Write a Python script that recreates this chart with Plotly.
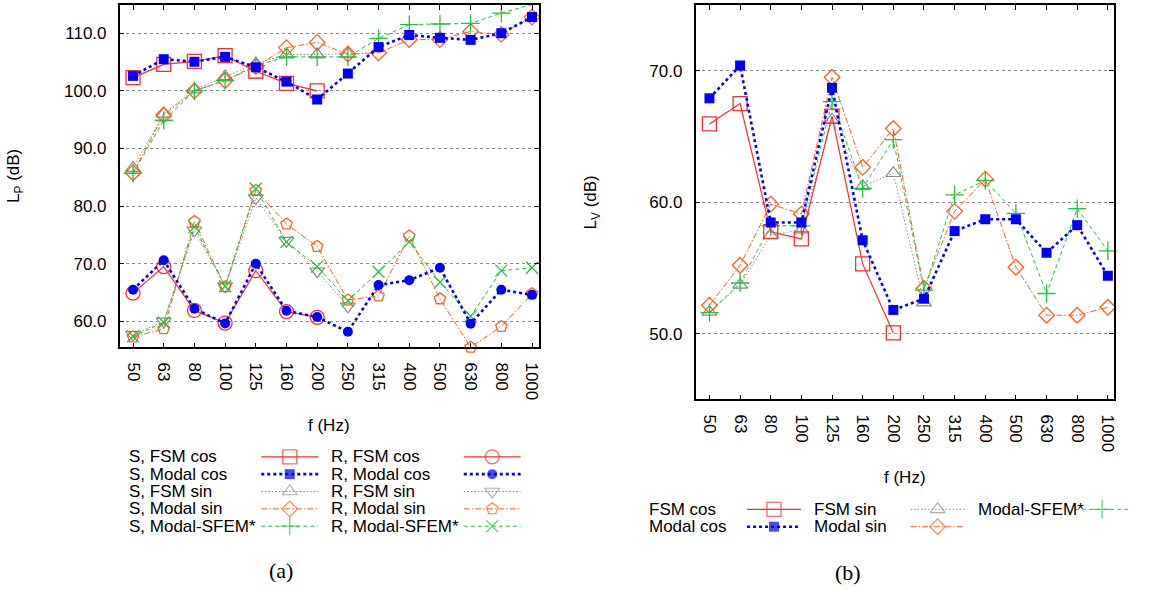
import plotly.graph_objects as go

W, H = 1163, 590

# ---------------- data ----------------
freqs = ["50", "63", "80", "100", "125", "160", "200", "250", "315", "400", "500", "630", "800", "1000"]

# (a) sound pressure level L_P (dB)
s_fsm_cos = [102.3, 104.6, 105.1, 106.1, 103.4, 101.3, 100.0]
s_modal_cos = [102.6, 105.5, 105.05, 105.9, 104.1, 101.6, 98.5, 103.0, 107.6, 109.7, 109.2, 108.85, 110.0, 112.8]
s_fsm_sin = [86.6, 96.0, 100.2, 102.5, 104.7, 106.3, 106.3, 106.4]
s_modal_sin = [85.8, 95.8, 100.0, 101.8, 104.2, 107.5, 108.4, 106.4, 106.6, 108.9, 108.9, 110.3, 109.8, 112.8]
s_sfem = [85.7, 94.9, 100.0, 101.8, 104.4, 105.9, 105.9, 105.9, 109.1, 111.5, 111.6, 111.7, 113.5, 115.0]

r_fsm_cos = [64.9, 69.5, 61.9, 59.7, 68.8, 61.7, 60.7]
r_modal_cos = [65.5, 70.6, 62.2, 59.65, 70.0, 61.85, 60.75, 58.2, 66.3, 67.15, 69.3, 59.6, 65.5, 64.6]
r_fsm_sin = [57.7, 60.0, 75.8, 66.1, 81.4, 74.0, 68.7, 62.6]
r_modal_sin = [57.3, 58.7, 77.3, 66.0, 82.7, 76.9, 73.0, 63.7, 64.4, 74.8, 63.9, 55.5, 59.1, 64.8]
r_sfem = [57.4, 59.8, 76.4, 66.1, 83.0, 73.8, 69.5, 63.6, 68.6, 73.8, 66.8, 60.9, 68.8, 69.3]

# (b) velocity level L_V (dB)
v_fsm_cos = [65.95, 67.5, 57.75, 57.2, 66.55, 55.3, 50.05]
v_modal_cos = [67.9, 70.4, 58.45, 58.45, 68.7, 57.1, 51.8, 52.65, 57.8, 58.7, 58.7, 56.15, 58.25, 54.4]
v_fsm_sin = [51.65, 53.7, 57.5, 57.9, 66.25, 61.2, 62.2, 52.35]
v_modal_sin = [52.15, 55.2, 59.85, 59.1, 69.5, 62.65, 65.6, 53.45, 59.3, 61.75, 55.05, 51.4, 51.4, 52.0]
v_sfem = [51.6, 53.85, 58.2, 58.2, 67.65, 61.05, 64.75, 53.3, 60.55, 61.65, 59.15, 53.05, 59.5, 56.3]

ticks_a = [60, 70, 80, 90, 100, 110]
ticks_b = [50, 60, 70]

# ---------------- styles ----------------
RED, BLUE, GRAY, ORANGE, GREEN = "#ff2a2a", "#0000ff", "#8a8a8a", "#ff5e1a", "#1fc43a"
ST = {
    "s_fsm_cos": dict(color=RED, dash="solid", width=1.2, symbol="square-open", size=14, lw=1.3),
    "s_modal_cos": dict(color=BLUE, dash="3px,3px", width=2.6, symbol="square", size=10, lw=0),
    "s_fsm_sin": dict(color=GRAY, dash="1.5px,2px", width=1.0, symbol="triangle-up-open", size=13, lw=1.2),
    "s_modal_sin": dict(color=ORANGE, dash="6px,2px,1.5px,2px", width=1.0, symbol="diamond-open", size=12, lw=1.3),
    "s_sfem": dict(color=GREEN, dash="4px,3px", width=1.0, symbol="cross-thin-open", size=13, lw=1.3),
    "r_fsm_cos": dict(color=RED, dash="solid", width=1.2, symbol="circle-open", size=14, lw=1.3),
    "r_modal_cos": dict(color=BLUE, dash="3px,3px", width=2.6, symbol="circle", size=10, lw=0),
    "r_fsm_sin": dict(color=GRAY, dash="1.5px,2px", width=1.0, symbol="triangle-down-open", size=13, lw=1.2),
    "r_modal_sin": dict(color=ORANGE, dash="6px,2px,1.5px,2px", width=1.0, symbol="pentagon-open", size=12, lw=1.3),
    "r_sfem": dict(color=GREEN, dash="4px,3px", width=1.0, symbol="x-thin-open", size=12, lw=1.3),
}

fig = go.Figure()


def add_series(vals, key, xa, ya):
    s = ST[key]
    fig.add_trace(go.Scatter(
        x=freqs[:len(vals)], y=vals, mode="lines+markers", xaxis=xa, yaxis=ya,
        line=dict(color=s["color"], dash=s["dash"], width=s["width"]),
        marker=dict(symbol=s["symbol"], size=s["size"], color=s["color"],
                    line=dict(color=s["color"], width=s["lw"])),
        showlegend=False, hoverinfo="x+y", cliponaxis=False))


# plot (a)
for vals, key in [(s_fsm_sin, "s_fsm_sin"), (r_fsm_sin, "r_fsm_sin"),
                  (s_modal_sin, "s_modal_sin"), (r_modal_sin, "r_modal_sin"),
                  (s_sfem, "s_sfem"), (r_sfem, "r_sfem"),
                  (s_fsm_cos, "s_fsm_cos"), (r_fsm_cos, "r_fsm_cos"),
                  (s_modal_cos, "s_modal_cos"), (r_modal_cos, "r_modal_cos")]:
    add_series(vals, key, "x", "y")

# plot (b)
for vals, key in [(v_fsm_sin, "s_fsm_sin"), (v_modal_sin, "s_modal_sin"), (v_sfem, "s_sfem"),
                  (v_fsm_cos, "s_fsm_cos"), (v_modal_cos, "s_modal_cos")]:
    add_series(vals, key, "x2", "y2")

# ---------------- custom gnuplot-style legends (pixel overlay axis) ----------------
FONT = "Liberation Sans, Arial, sans-serif"
annotations = []


def legend_entry(label, key, tx, y, x0, x1):
    s = ST[key]
    xm = (x0 + x1) / 2
    fig.add_trace(go.Scatter(
        x=[x0, xm, x1], y=[y, y, y], mode="lines+markers", xaxis="x3", yaxis="y3",
        line=dict(color=s["color"], dash=s["dash"], width=s["width"]),
        marker=dict(symbol=s["symbol"], size=[0, s["size"], 0], color=s["color"],
                    line=dict(color=s["color"], width=s["lw"])),
        showlegend=False, hoverinfo="skip", cliponaxis=False))
    annotations.append(dict(text=label, x=tx / W, y=1 - y / H, xref="paper", yref="paper",
                            xanchor="left", yanchor="middle", showarrow=False,
                            font=dict(family=FONT, size=17, color="black")))


rows_a = [456.8 + 17.35 * i for i in range(5)]
left_a = [("S, FSM cos", "s_fsm_cos"), ("S, Modal cos", "s_modal_cos"), ("S, FSM sin", "s_fsm_sin"),
          ("S, Modal sin", "s_modal_sin"), ("S, Modal-SFEM*", "s_sfem")]
right_a = [("R, FSM cos", "r_fsm_cos"), ("R, Modal cos", "r_modal_cos"), ("R, FSM sin", "r_fsm_sin"),
           ("R, Modal sin", "r_modal_sin"), ("R, Modal-SFEM*", "r_sfem")]
for (lab, key), y in zip(left_a, rows_a):
    legend_entry(lab, key, 127, y, 262, 319)
for (lab, key), y in zip(right_a, rows_a):
    legend_entry(lab, key, 330, y, 465, 522)

rows_b = [509.3, 526.7]
legend_entry("FSM cos", "s_fsm_cos", 649, rows_b[0], 749, 803)
legend_entry("Modal cos", "s_modal_cos", 649, rows_b[1], 749, 803)
legend_entry("FSM sin", "s_fsm_sin", 814, rows_b[0], 913, 967)
legend_entry("Modal sin", "s_modal_sin", 814, rows_b[1], 913, 967)
legend_entry("Modal-SFEM*", "s_sfem", 979, rows_b[0], 1078, 1132)

# axis titles & captions


def ann(text, x, y, size=17, angle=0, family=FONT):
    annotations.append(dict(text=text, x=x / W, y=1 - y / H, xref="paper", yref="paper",
                            xanchor="center", yanchor="middle", showarrow=False, textangle=angle,
                            font=dict(family=family, size=size, color="black")))


ann("L<sub>P</sub> (dB)", 15, 176, angle=-90)
ann("L<sub>V</sub> (dB)", 594, 202, angle=-90)
ann("f (Hz)", 330, 425)
ann("f (Hz)", 907, 477)
ann("(a)", 282, 570, size=22, family="Liberation Serif, Times New Roman, serif")
ann("(b)", 850, 572, size=22, family="Liberation Serif, Times New Roman, serif")

# ---------------- axes ----------------
common_x = dict(type="category", showline=True, linecolor="black", linewidth=1.5, mirror="allticks",
                ticks="inside", ticklen=5, tickcolor="black", tickwidth=1, tickangle=90,
                tickfont=dict(family=FONT, size=17, color="black"), showgrid=False, zeroline=False,
                ticklabelstandoff=10, fixedrange=True)
common_y = dict(showline=True, linecolor="black", linewidth=1.5, mirror="allticks",
                ticks="inside", ticklen=5, tickcolor="black", tickwidth=1, tickformat=".1f",
                tickfont=dict(family=FONT, size=17, color="black"), showgrid=True,
                gridcolor="#8c8c8c", griddash="dot", gridwidth=1, zeroline=False,
                ticklabelstandoff=8, fixedrange=True)

fig.update_layout(
    width=W, height=H, margin=dict(l=0, r=0, t=0, b=0),
    paper_bgcolor="white", plot_bgcolor="rgba(0,0,0,0)", showlegend=False,
    xaxis=dict(common_x, domain=[120 / W, 540 / W], anchor="y", range=[-0.435, 13.215]),
    yaxis=dict(common_y, domain=[1 - 347.3 / H, 1 - 5 / H], anchor="x", range=[55.5, 114.9],
               tickvals=ticks_a),
    xaxis2=dict(common_x, domain=[697.3 / W, 1116.7 / W], anchor="y2", range=[-0.455, 13.195]),
    yaxis2=dict(common_y, domain=[1 - 399.3 / H, 1 - 5 / H], anchor="x2", range=[45, 75],
                tickvals=ticks_b),
    xaxis3=dict(domain=[0, 1], anchor="y3", range=[0, W], visible=False, fixedrange=True),
    yaxis3=dict(domain=[0, 1], anchor="x3", range=[H, 0], visible=False, fixedrange=True),
    annotations=annotations,
)

fig.write_html("out.html")
